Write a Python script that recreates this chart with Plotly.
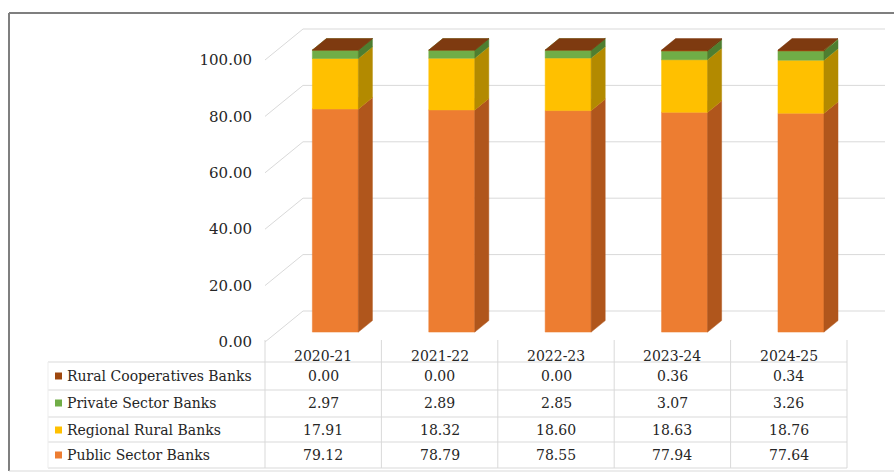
import plotly.graph_objects as go

# ---- data -------------------------------------------------------------
years = ["2020-21", "2021-22", "2022-23", "2023-24", "2024-25"]
public_sector = [79.12, 78.79, 78.55, 77.94, 77.64]
regional_rural = [17.91, 18.32, 18.60, 18.63, 18.76]
private_sector = [2.97, 2.89, 2.85, 3.07, 3.26]
rural_coop = [0.00, 0.00, 0.00, 0.36, 0.34]
y_ticks = [0, 20, 40, 60, 80, 100]

# stacking order, bottom to top: (name, values, front, side, top colours)
series = [
    ("Public Sector Banks", public_sector, "#ED7D31", "#B0561C", "#F29A5E"),
    ("Regional Rural Banks", regional_rural, "#FFC000", "#B38A00", "#FFD34D"),
    ("Private Sector Banks", private_sector, "#70AD47", "#4E7E30", "#86BF5E"),
    ("Rural Cooperatives Banks", rural_coop, "#9E480E", "#6B300A", "#7E3A10"),
]

# ---- page geometry (pixels) --------------------------------------------
W, H = 894, 474
PX_LEFT = 265.0          # left edge of the category band (front plane)
COL_W = 116.4            # width of one category column
Y0_PX = 342.0            # pixel row of value 0 on the front plane
PX_PER_UNIT = 2.82       # pixels per percentage point

# oblique depth of the 3-D box, expressed in axis units
DEPTH_X = 38.0 / COL_W
DEPTH_Y = 31.0 / PX_PER_UNIT
BAR_F1, BAR_F2 = 0.32, 0.69      # front/back of bars as fraction of depth
BAR_HALF = 0.395 / 2.0

x_range = [-0.5, -0.5 + (W - PX_LEFT) / COL_W]
y_range = [(Y0_PX - H) / PX_PER_UNIT, Y0_PX / PX_PER_UNIT]


def px_x(px):
    return px / W


def px_y(py):
    return 1.0 - py / H


FONT = "DejaVu Serif"
TXT = "#262626"
GRID = "#D9D9D9"

fig = go.Figure()

# ---- walls: gridlines on the side wall and back wall --------------------
gx, gy = [], []
for v in y_ticks:
    gx += [-0.5, -0.5 + DEPTH_X, len(years) - 0.5 + DEPTH_X, None]
    gy += [v, v + DEPTH_Y, v + DEPTH_Y, None]
fig.add_trace(go.Scatter(x=gx, y=gy, mode="lines",
                         line=dict(color=GRID, width=1),
                         hoverinfo="skip", showlegend=False))

# ---- 3-D stacked columns --------------------------------------------------
base = [0.0] * len(years)
for name, values, c_front, c_side, c_top in series:
    fx, fy, sx, sy, tx, ty = [], [], [], [], [], []
    for i, v in enumerate(values):
        b, t = base[i], base[i] + v
        xa = i + BAR_F1 * DEPTH_X - BAR_HALF
        xb = i + BAR_F1 * DEPTH_X + BAR_HALF
        dxb = (BAR_F2 - BAR_F1) * DEPTH_X
        ya = BAR_F1 * DEPTH_Y
        yb = BAR_F2 * DEPTH_Y
        # front face
        fx += [xa, xb, xb, xa, xa, None]
        fy += [b + ya, b + ya, t + ya, t + ya, b + ya, None]
        # right side face
        sx += [xb, xb + dxb, xb + dxb, xb, xb, None]
        sy += [b + ya, b + yb, t + yb, t + ya, b + ya, None]
        # top face
        tx += [xa, xb, xb + dxb, xa + dxb, xa, None]
        ty += [t + ya, t + ya, t + yb, t + yb, t + ya, None]
        base[i] = t
    for xs, ys, col in ((fx, fy, c_front), (sx, sy, c_side), (tx, ty, c_top)):
        fig.add_trace(go.Scatter(x=xs, y=ys, mode="lines", fill="toself",
                                 fillcolor=col,
                                 line=dict(color=col, width=0.5),
                                 hoverinfo="skip", showlegend=False,
                                 name=name))

# ---- data table under the plot ---------------------------------------------
shapes = []
row_lines = [362, 390, 417, 442, 468]
row_centres = [376, 403, 430, 455]
TABLE_LEFT = 48
table_right = PX_LEFT + COL_W * len(years)

for py in row_lines:
    shapes.append(dict(type="line", xref="paper", yref="paper",
                       x0=px_x(TABLE_LEFT), x1=px_x(table_right),
                       y0=px_y(py), y1=px_y(py),
                       line=dict(color=GRID, width=1)))
shapes.append(dict(type="line", xref="paper", yref="paper",
                   x0=px_x(TABLE_LEFT), x1=px_x(TABLE_LEFT),
                   y0=px_y(362), y1=px_y(468),
                   line=dict(color="#EDEDED", width=1)))
for k in range(len(years) + 1):
    xpx = PX_LEFT + COL_W * k
    shapes.append(dict(type="line", xref="paper", yref="paper",
                       x0=px_x(xpx), x1=px_x(xpx),
                       y0=px_y(340), y1=px_y(468),
                       line=dict(color=GRID, width=1)))

# outer frame
shapes.append(dict(type="line", xref="paper", yref="paper",
                   x0=px_x(9), x1=1.0, y0=px_y(13), y1=px_y(13),
                   line=dict(color="#7F7F7F", width=2)))
shapes.append(dict(type="line", xref="paper", yref="paper",
                   x0=px_x(9), x1=px_x(9), y0=px_y(13), y1=px_y(471),
                   line=dict(color="#7F7F7F", width=2)))
shapes.append(dict(type="line", xref="paper", yref="paper",
                   x0=px_x(9), x1=1.0, y0=px_y(471), y1=px_y(471),
                   line=dict(color="#D9D9D9", width=1)))

annotations = []
for i, yr in enumerate(years):
    annotations.append(dict(x=i, xref="x", y=px_y(356), yref="paper",
                            text=yr, showarrow=False,
                            font=dict(family=FONT, size=14, color=TXT),
                            xanchor="center", yanchor="middle"))

table_rows = list(reversed(series))  # top row is the top of the stack
for r, (name, values, c_front, _, _) in enumerate(table_rows):
    cy = row_centres[r]
    shapes.append(dict(type="rect", xref="paper", yref="paper",
                       x0=px_x(55), x1=px_x(62),
                       y0=px_y(cy + 3.5), y1=px_y(cy - 3.5),
                       fillcolor=c_front, line=dict(width=0)))
    annotations.append(dict(x=px_x(65), xref="paper", y=px_y(cy),
                            yref="paper", text=name, showarrow=False,
                            font=dict(family=FONT, size=14, color=TXT),
                            xanchor="left", yanchor="middle"))
    for i, v in enumerate(values):
        annotations.append(dict(x=i, xref="x", y=px_y(cy), yref="paper",
                                text=f"{v:.2f}", showarrow=False,
                                font=dict(family=FONT, size=14, color=TXT),
                                xanchor="center", yanchor="middle"))

fig.update_layout(
    width=W, height=H, autosize=False,
    margin=dict(l=0, r=0, t=0, b=0, pad=0),
    paper_bgcolor="white", plot_bgcolor="white",
    showlegend=False,
    xaxis=dict(domain=[PX_LEFT / W, 1.0], range=x_range,
               showgrid=False, zeroline=False, showline=False,
               showticklabels=False, ticks="", fixedrange=True),
    yaxis=dict(domain=[0, 1], range=y_range,
               tickvals=y_ticks, tickformat=".2f",
               showgrid=False, zeroline=False, showline=False,
               ticks="", ticklabelstandoff=12,
               tickfont=dict(family=FONT, size=15, color=TXT),
               fixedrange=True),
    shapes=shapes,
    annotations=annotations,
)

fig.write_html("out.html")
